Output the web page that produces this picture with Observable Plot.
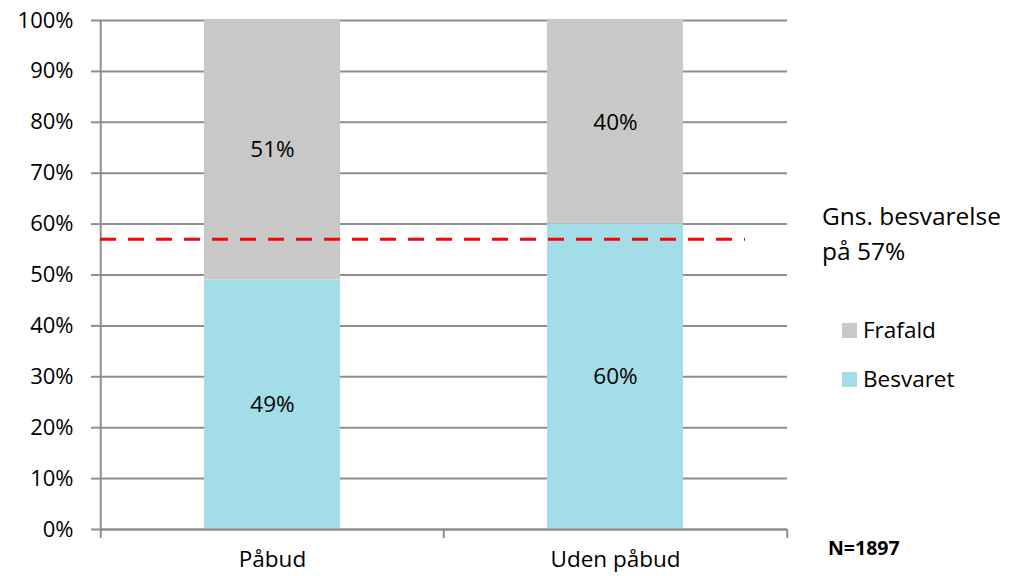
<!DOCTYPE html>
<html><head><meta charset="utf-8">
<script src="https://cdn.jsdelivr.net/npm/d3@7"></script>
<script src="https://cdn.jsdelivr.net/npm/@observablehq/plot@0.6"></script>
<style>
body{margin:0;background:#fff;font-family:"Open Sans",sans-serif;}
#wrap{position:relative;width:1010px;height:576px;}
.ann{position:absolute;color:#000;white-space:nowrap;line-height:1;}
.avg{left:822px;top:198px;font-size:24.5px;line-height:35px;}
.leg{left:842px;font-size:22.5px;display:flex;align-items:center;}
.leg span.sw{display:inline-block;width:15px;height:15px;margin-right:6px;}
.note{left:828px;top:538px;font-size:19.5px;font-weight:bold;}
</style></head><body><div id="wrap"></div>
<script>
const categories = ["Påbud", "Uden påbud"];
const series = ["Besvaret", "Frafald"];
const besvaret = [49, 60];
const frafald = [51, 40];
const average = 57;
const yTicks = [0, 10, 20, 30, 40, 50, 60, 70, 80, 90, 100];
const averageLabel = ["Gns. besvarelse", "på 57%"];
const legendOrder = ["Frafald", "Besvaret"];
const sampleNote = "N=1897";
const colors = ["#a3dde8", "#c8c8c8"];

const data = categories.flatMap((c, i) => [
  {cat: c, series: "Besvaret", value: besvaret[i]},
  {cat: c, series: "Frafald", value: frafald[i]}
]);

const W = 1010, H = 576, mL = 100, mR = 223, mT = 20, mB = 47;
const step = (W - mL - mR) / categories.length;
const frameH = H - mT - mB;
const grey = "#8e8e8e";

const chart = Plot.plot({
  width: W, height: H, marginLeft: mL, marginRight: mR, marginTop: mT, marginBottom: mB,
  style: {fontFamily: "'Open Sans', sans-serif", fontSize: "22px", color: "#000", background: "#fff"},
  x: {domain: categories, paddingInner: 0.604, paddingOuter: 0.302, axis: null},
  y: {domain: [0, 100], axis: null},
  color: {domain: series, range: colors},
  marks: [
    Plot.gridY(yTicks, {stroke: grey, strokeOpacity: 1, strokeWidth: 2}),
    Plot.axisY(yTicks, {tickSize: 9, tickPadding: 18, tickFormat: d => d + "%", stroke: grey, strokeWidth: 2, label: null, fontSize: 22}),
    Plot.barY(data, Plot.stackY({x: "cat", y: "value", fill: "series", z: "series", order: series})),
    Plot.text(data, Plot.stackY({x: "cat", y: "value", z: "series", text: d => d.value + "%", order: series, fontSize: 22.5, fill: "#000"})),
    Plot.ruleY([0], {stroke: grey, strokeWidth: 2}),
    Plot.ruleX([categories[0]], {dx: -step / 2, stroke: grey, strokeWidth: 2, insetBottom: -9}),
    Plot.ruleX(categories.slice(1), {dx: -step / 2, stroke: grey, strokeWidth: 2, insetTop: frameH, insetBottom: -9}),
    Plot.ruleX(categories.slice(-1), {dx: step / 2, stroke: grey, strokeWidth: 2, insetTop: frameH, insetBottom: -9}),
    Plot.ruleY([average], {stroke: "#ff0000", strokeWidth: 3, strokeDasharray: "16,12", insetRight: 42}),
    Plot.axisX({tickSize: 0, tickPadding: 22, label: null, fontSize: 22.5})
  ]
});
const wrap = document.getElementById("wrap");
wrap.appendChild(chart);

const avg = document.createElement("div");
avg.className = "ann avg";
avg.innerHTML = averageLabel.join("<br>");
wrap.appendChild(avg);

const legTops = {"Frafald": 319, "Besvaret": 368};
legendOrder.forEach(s => {
  const d = document.createElement("div");
  d.className = "ann leg";
  d.style.top = legTops[s] + "px";
  d.innerHTML = `<span class="sw" style="background:${colors[series.indexOf(s)]}"></span>${s}`;
  wrap.appendChild(d);
});

const note = document.createElement("div");
note.className = "ann note";
note.textContent = sampleNote;
wrap.appendChild(note);
</script>
</body></html>
